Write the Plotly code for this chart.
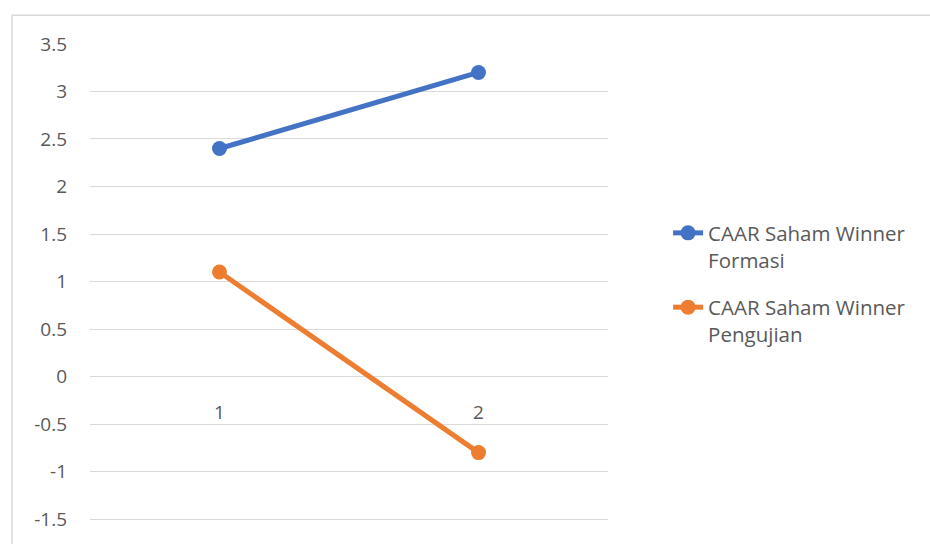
import plotly.graph_objects as go

categories = [1, 2]
formasi = [2.4, 3.2]
pengujian = [1.1, -0.8]
series_names = ["CAAR Saham Winner<br>Formasi", "CAAR Saham Winner<br>Pengujian"]
y_ticks = [3.5, 3, 2.5, 2, 1.5, 1, 0.5, 0, -0.5, -1, -1.5]

FONT = "Open Sans"
GRAY = "#595959"
Y_MIN, Y_MAX = -1.53, 3.51

fig = go.Figure()
fig.add_trace(go.Scatter(x=categories, y=formasi, mode="lines+markers", name=series_names[0],
                         legendgroup="a",
                         line=dict(color="#4472C4", width=5), marker=dict(size=15, color="#4472C4")))
fig.add_trace(go.Scatter(x=categories, y=pengujian, mode="lines+markers", name=series_names[1],
                         legendgroup="b",
                         line=dict(color="#ED7D31", width=5), marker=dict(size=15, color="#ED7D31")))

fig.update_layout(
    width=930, height=544,
    margin=dict(l=90, r=322, t=43.3, b=18.8),
    paper_bgcolor="white", plot_bgcolor="white",
    font=dict(family=FONT, size=19, color=GRAY),
    showlegend=True,
    legend=dict(x=1.116, y=0.645, xanchor="left", yanchor="top", valign="top",
                traceorder="grouped", tracegroupgap=18,
                font=dict(family=FONT, size=20.5, color=GRAY)),
    xaxis=dict(range=[0.5, 2.5], tickvals=categories, ticktext=[str(c) for c in categories],
               showgrid=False, zeroline=False, showline=False, ticks="",
               anchor="free", position=(0 - Y_MIN) / (Y_MAX - Y_MIN), ticklabelstandoff=22,
               tickfont=dict(family=FONT, size=19, color=GRAY)),
    yaxis=dict(range=[Y_MIN, Y_MAX], tickvals=y_ticks, ticktext=[str(v) for v in y_ticks],
               showgrid=True, gridcolor="#D9D9D9", gridwidth=1, zeroline=False, showline=False,
               ticks="", ticklabelstandoff=22,
               tickfont=dict(family=FONT, size=19, color=GRAY)),
    shapes=[dict(type="rect", xref="paper", yref="paper", x0=-0.1506, x1=1.7, y0=-0.1, y1=1.058,
                 line=dict(color="#D9D9D9", width=1.5), fillcolor="rgba(0,0,0,0)", layer="below")],
)

fig.write_html("out.html")
